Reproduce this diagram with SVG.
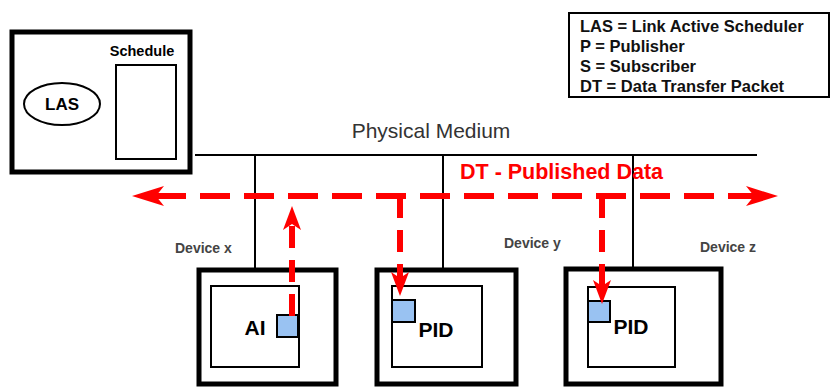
<svg xmlns="http://www.w3.org/2000/svg" width="834" height="388" viewBox="0 0 834 388">
<defs>
<style>
.thick{fill:#fff;stroke:#000;stroke-width:5}
.thin{fill:none;stroke:#000;stroke-width:2}
.blk{fill:#fff;stroke:#000;stroke-width:2}
.pkt{fill:#99c2f2;stroke:#000;stroke-width:2}
.b{font-family:"Liberation Sans",Arial,sans-serif;font-weight:bold;fill:#000}
.lg{font-family:"Liberation Sans",Arial,sans-serif;font-weight:bold;font-size:16.5px;fill:#111}
.dev{font-family:"Liberation Sans",Arial,sans-serif;font-weight:bold;font-size:14px;fill:#444}
.bus{stroke:#000;stroke-width:2;fill:none}
.dt{stroke:#ff0000;stroke-width:6;fill:none}
</style>
<marker id="bigHead" viewBox="0 -11 32 22" refX="8" refY="0" markerWidth="32" markerHeight="22" markerUnits="userSpaceOnUse" orient="auto-start-reverse">
<path d="M0,-10 L32,0 L0,10 L8,0 z" fill="#ff0000"/>
</marker>
<marker id="smallHead" viewBox="0 -10 24 20" refX="6" refY="0" markerWidth="24" markerHeight="20" markerUnits="userSpaceOnUse" orient="auto">
<path d="M0,-9 L24,0 L0,9 L6,0 z" fill="#ff0000"/>
</marker>
</defs>
<rect width="834" height="388" fill="#fff"/>

<g id="las-node">
<rect class="thick" x="12" y="32" width="178" height="140"/>
<rect class="thin" x="116" y="65" width="60" height="94"/>
<text class="b" x="142" y="56" font-size="14.5" text-anchor="middle">Schedule</text>
<ellipse class="thin" cx="62" cy="104" rx="38" ry="21"/>
<text class="b" x="62" y="110" font-size="17" text-anchor="middle">LAS</text>
</g>

<g id="legend">
<rect x="569" y="13" width="260" height="84" fill="#fff" stroke="#000" stroke-width="2"/>
<text class="lg" x="580" y="32">LAS = Link Active Scheduler</text>
<text class="lg" x="580" y="52">P = Publisher</text>
<text class="lg" x="580" y="72">S = Subscriber</text>
<text class="lg" x="580" y="92">DT = Data Transfer Packet</text>
</g>

<g id="physical-medium">
<text x="431" y="138" font-family="'Liberation Sans',Arial,sans-serif" font-size="21" fill="#333" text-anchor="middle">Physical Medium</text>
<line class="bus" x1="195" y1="155" x2="757" y2="155"/>
</g>

<g id="device-x">
<text class="dev" x="175" y="253">Device x</text>
<rect class="thick" x="199" y="270" width="137" height="114"/>
<rect class="blk" x="211" y="286" width="88" height="81"/>
<text class="b" x="255" y="335" font-size="21" text-anchor="middle">AI</text>
<rect class="pkt" x="277" y="315" width="21" height="22"/>
</g>

<g id="device-y">
<text class="dev" x="504" y="248">Device y</text>
<rect class="thick" x="377" y="270" width="139" height="114"/>
<rect class="blk" x="392" y="286" width="90" height="81"/>
<text class="b" x="436" y="337" font-size="21" text-anchor="middle">PID</text>
<rect class="pkt" x="392" y="300" width="23" height="22"/>
</g>

<g id="device-z">
<text class="dev" x="700" y="252">Device z</text>
<rect class="thick" x="566" y="269" width="155" height="115"/>
<rect class="thin" x="588" y="287" width="87" height="80"/>
<text class="b" x="631" y="334" font-size="21" text-anchor="middle">PID</text>
<rect class="pkt" x="588" y="301" width="22" height="21"/>
</g>

<g id="connectors">
<line class="bus" x1="255" y1="155" x2="255" y2="268"/>
<line class="bus" x1="443" y1="155" x2="443" y2="268"/>
<line class="bus" x1="633" y1="155" x2="633" y2="267"/>
<text class="b" x="460" y="179" font-size="21.5" style="fill:#ff0000">DT - Published Data</text>
<path class="dt" d="M156,196 H754" stroke-dasharray="30,14" marker-start="url(#bigHead)" marker-end="url(#bigHead)"/>
<path class="dt" d="M292,316 V224" stroke-dasharray="22,12" marker-end="url(#smallHead)"/>
<path class="dt" d="M400,196 V278" stroke-dasharray="22,12" marker-end="url(#smallHead)"/>
<path class="dt" d="M602,196 V286" stroke-dasharray="22,12" marker-end="url(#smallHead)"/>
</g>
</svg>
